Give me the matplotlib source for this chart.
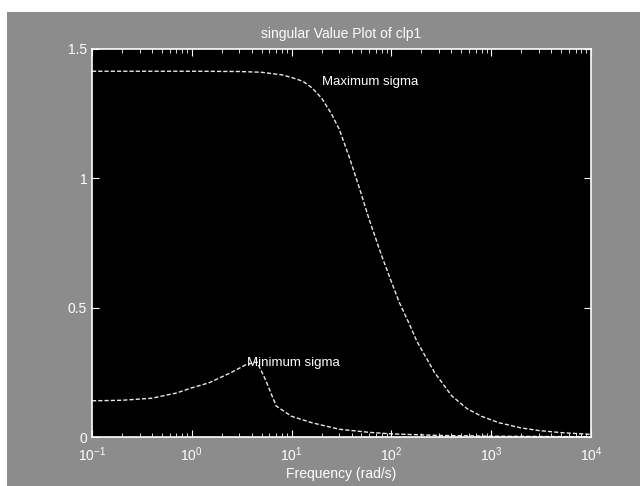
import matplotlib

matplotlib.use("Agg")
import matplotlib.pyplot as plt
from matplotlib.patches import Rectangle
from matplotlib.ticker import FixedLocator, FixedFormatter, LogLocator

plt.rcParams["font.family"] = ["Liberation Sans", "DejaVu Sans"]
plt.rcParams["mathtext.fontset"] = "custom"
plt.rcParams["mathtext.rm"] = "Liberation Sans"
plt.rcParams["mathtext.it"] = "Liberation Sans:italic"
plt.rcParams["mathtext.bf"] = "Liberation Sans:bold"

# frequency grid (rad/s) and singular values
freq_max = [0.1, 0.3, 1, 3, 5, 8, 10, 13, 16, 20, 25, 30, 38, 48, 60, 80,
            100, 120, 150, 180, 270, 400, 570, 800, 1200, 2000, 3000, 5000,
            10000]
sigma_max = [1.414, 1.414, 1.414, 1.413, 1.41, 1.40, 1.39, 1.375, 1.35,
             1.31, 1.25, 1.19, 1.08, 0.96, 0.84, 0.70, 0.60, 0.52, 0.44,
             0.37, 0.25, 0.16, 0.11, 0.08, 0.055, 0.035, 0.025, 0.017, 0.01]

freq_min = [0.1, 0.2, 0.4, 0.7, 1.0, 1.5, 2.5, 3.5, 4.5, 5.5, 7, 10, 16,
            30, 60, 100, 300, 1000, 10000]
sigma_min = [0.14, 0.142, 0.15, 0.17, 0.19, 0.21, 0.25, 0.28, 0.29, 0.22,
             0.12, 0.08, 0.055, 0.03, 0.018, 0.012, 0.006, 0.003, 0.001]

y_ticks = [0, 0.5, 1, 1.5]
y_tick_labels = ["0", "0.5", "1", "1.5"]

bg = "#8c8c8c"
fg = "white"

fig = plt.figure(figsize=(6.4, 4.86), dpi=100, facecolor="white")
fig.patches.append(Rectangle((7 / 640, 0), 633 / 640, 474 / 486,
                             transform=fig.transFigure, facecolor=bg,
                             edgecolor="none", zorder=-10))

ax = fig.add_axes([92 / 640, 49 / 486, 499 / 640, 388 / 486])
ax.set_facecolor("black")

ax.plot(freq_max, sigma_max, color="#e8e8e8", lw=1.0, ls=(0, (3, 1.5)))
ax.plot(freq_min, sigma_min, color="#e8e8e8", lw=1.0, ls=(0, (3, 1.5)))

ax.set_xscale("log")
ax.set_xlim(0.1, 1e4)
ax.set_ylim(0, 1.5)
ax.xaxis.set_major_locator(LogLocator(base=10, numticks=10))
ax.yaxis.set_major_locator(FixedLocator(y_ticks))
ax.yaxis.set_major_formatter(FixedFormatter(y_tick_labels))

for side in ax.spines.values():
    side.set_color(fg)
    side.set_linewidth(1.2)

ax.tick_params(which="both", direction="in", colors=fg, top=True, right=True,
               labelsize=10, labelcolor=fg)
ax.tick_params(which="major", length=5)
ax.tick_params(which="minor", length=3)
ax.tick_params(axis="x", pad=6)

ax.text(20, 1.372, "Maximum sigma", color=fg, fontsize=9.5, va="center",
        ha="left")
ax.text(3.57, 0.286, "Minimum sigma", color=fg, fontsize=9.5, va="center",
        ha="left")

ax.set_title("singular Value Plot of clp1", color=fg, fontsize=10, pad=8)
ax.set_xlabel("Frequency (rad/s)", color=fg, fontsize=10, labelpad=2)

fig.savefig("out.png", dpi=100, facecolor=fig.get_facecolor())
